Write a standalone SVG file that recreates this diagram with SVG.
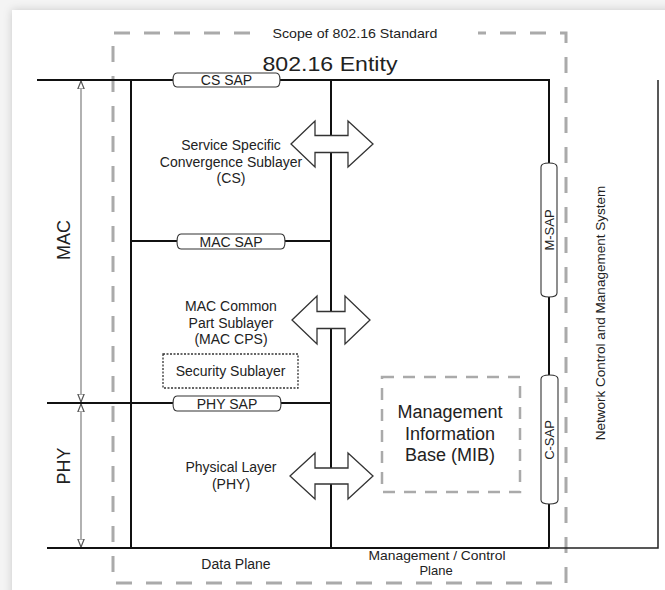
<svg xmlns="http://www.w3.org/2000/svg" width="665" height="590" viewBox="0 0 665 590">
<style>
  text { font-family: "Liberation Sans", Arial, sans-serif; fill: #222; }
  .t14 { font-size: 14px; text-anchor: middle; }
  .t13 { font-size: 13px; text-anchor: middle; }
  .big { font-size: 18px; text-anchor: middle; }
  .line { stroke: #111; stroke-width: 2; fill: none; }
  .thin { stroke: #222; stroke-width: 1.5; fill: none; }
  .dim { stroke: #888; stroke-width: 1.3; fill: none; }
  .sap { fill: #fff; stroke: #333; stroke-width: 1.1; }
  .arrow { fill: #fff; stroke: #333; stroke-width: 1.3; stroke-linejoin: miter; }
  .scope { fill: none; stroke: #aaa; stroke-width: 3; stroke-dasharray: 16 14; }
  .mib { fill: none; stroke: #aaa; stroke-width: 2.5; stroke-dasharray: 12 9; }
  .sec { fill: none; stroke: #333; stroke-width: 1.3; stroke-dasharray: 2 1.5; }
</style>
<defs>
  <filter id="shadow" x="-5%" y="-5%" width="110%" height="110%">
    <feDropShadow dx="0" dy="0" stdDeviation="4" flood-color="#000" flood-opacity="0.18"/>
  </filter>
  <marker id="dimhead" viewBox="0 0 10 10" refX="10" refY="5" markerWidth="8" markerHeight="8" markerUnits="userSpaceOnUse" orient="auto-start-reverse">
    <path d="M0,1 L10,5 L0,9 Z" fill="#fff" stroke="#555" stroke-width="1.5"/>
  </marker>
</defs>
<rect x="0" y="0" width="665" height="590" fill="#f4f4f4"/>
<rect x="12" y="10" width="700" height="620" fill="#fff" filter="url(#shadow)"/>

<g id="scope">
  <path class="scope" d="M250,33 H113 V583 H566 V33 H478"/>
  <text class="t13" x="355" y="38" textLength="165" lengthAdjust="spacingAndGlyphs">Scope of 802.16 Standard</text>
</g>

<g id="entity-title">
  <text x="330" y="71" style="font-size:21px;text-anchor:middle" textLength="135" lengthAdjust="spacingAndGlyphs">802.16 Entity</text>
</g>

<g id="connectors">
  <path class="line" d="M37,80 H549 V163"/>
  <path class="line" d="M549,297 V375"/>
  <path class="line" d="M549,504 V548"/>
  <path class="line" d="M131,80 V548"/>
  <path class="line" d="M331,80 V548"/>
  <path class="line" d="M131,241 H331"/>
  <path class="line" d="M47,403 H331"/>
  <path class="line" d="M47,548 H549"/>
  <path class="thin" d="M549,548 H658 V80"/>
  <path class="dim" d="M81,81 V402" marker-start="url(#dimhead)" marker-end="url(#dimhead)"/>
  <path class="dim" d="M81,404 V547" marker-start="url(#dimhead)" marker-end="url(#dimhead)"/>
</g>

<g id="cs-sap">
  <path class="sap" d="M177,73 H276 Q280,73 280,80 Q280,87 276,87 H177 Q173,87 173,80 Q173,73 177,73 Z"/>
  <text class="t14" x="226.5" y="85">CS SAP</text>
</g>
<g id="mac-sap">
  <path class="sap" d="M181,234 H281 Q285,234 285,241.5 Q285,249 281,249 H181 Q177,249 177,241.5 Q177,234 181,234 Z"/>
  <text class="t14" x="231" y="246.5">MAC SAP</text>
</g>
<g id="phy-sap">
  <path class="sap" d="M177,396 H277 Q281,396 281,403.5 Q281,411 277,411 H177 Q173,411 173,403.5 Q173,396 177,396 Z"/>
  <text class="t14" x="227" y="408.5">PHY SAP</text>
</g>

<g id="m-sap">
  <path class="sap" d="M541,167 Q541,163 549,163 Q557,163 557,167 V293 Q557,297 549,297 Q541,297 541,293 Z"/>
  <text class="t13" transform="translate(553.5,230) rotate(-90)">M-SAP</text>
</g>
<g id="c-sap">
  <path class="sap" d="M541,379 Q541,375 549.5,375 Q558,375 558,379 V500 Q558,504 549.5,504 Q541,504 541,500 Z"/>
  <text class="t13" transform="translate(554,440) rotate(-90)">C-SAP</text>
</g>

<g id="cs-layer">
  <text class="t14" x="231" y="150">Service Specific</text>
  <text class="t14" x="231" y="167">Convergence Sublayer</text>
  <text class="t14" x="231" y="183">(CS)</text>
  <polygon class="arrow" points="291,144 315,121 315,135.5 348,135.5 348,121 373,144 348,167 348,152.5 315,152.5 315,167"/>
</g>

<g id="mac-cps">
  <text class="t14" x="231" y="311">MAC Common</text>
  <text class="t14" x="231" y="328">Part Sublayer</text>
  <text class="t14" x="231" y="344">(MAC CPS)</text>
  <polygon class="arrow" points="292,320 317,296 317,311.5 345,311.5 345,296 370,320 345,344 345,328.5 317,328.5 317,344"/>
</g>

<g id="security">
  <rect class="sec" x="163" y="354" width="135" height="34"/>
  <text class="t14" x="230.5" y="376">Security Sublayer</text>
</g>

<g id="phy-layer">
  <text class="t14" x="231" y="472">Physical Layer</text>
  <text class="t14" x="231" y="489">(PHY)</text>
  <polygon class="arrow" points="290,476 315,453 315,468 348,468 348,453 373,476 348,499 348,484 315,484 315,499"/>
</g>

<g id="mib">
  <rect class="mib" x="382" y="377" width="138" height="115"/>
  <text class="big" x="450" y="418">Management</text>
  <text class="big" x="450" y="440">Information</text>
  <text class="big" x="450" y="461">Base (MIB)</text>
</g>

<g id="mac-label">
  <text class="big" transform="translate(70,240) rotate(-90)">MAC</text>
</g>
<g id="phy-label">
  <text class="big" transform="translate(70,466) rotate(-90)">PHY</text>
</g>

<g id="nms">
  <text transform="translate(605,313) rotate(-90)" style="font-size:13.5px;text-anchor:middle">Network Control and Management System</text>
</g>

<g id="data-plane">
  <text class="t14" x="236" y="569">Data Plane</text>
</g>
<g id="mgmt-plane">
  <text x="437" y="560" style="font-size:13px;text-anchor:middle" textLength="137" lengthAdjust="spacingAndGlyphs">Management / Control</text>
  <text x="436" y="575" style="font-size:13px;text-anchor:middle">Plane</text>
</g>
</svg>
